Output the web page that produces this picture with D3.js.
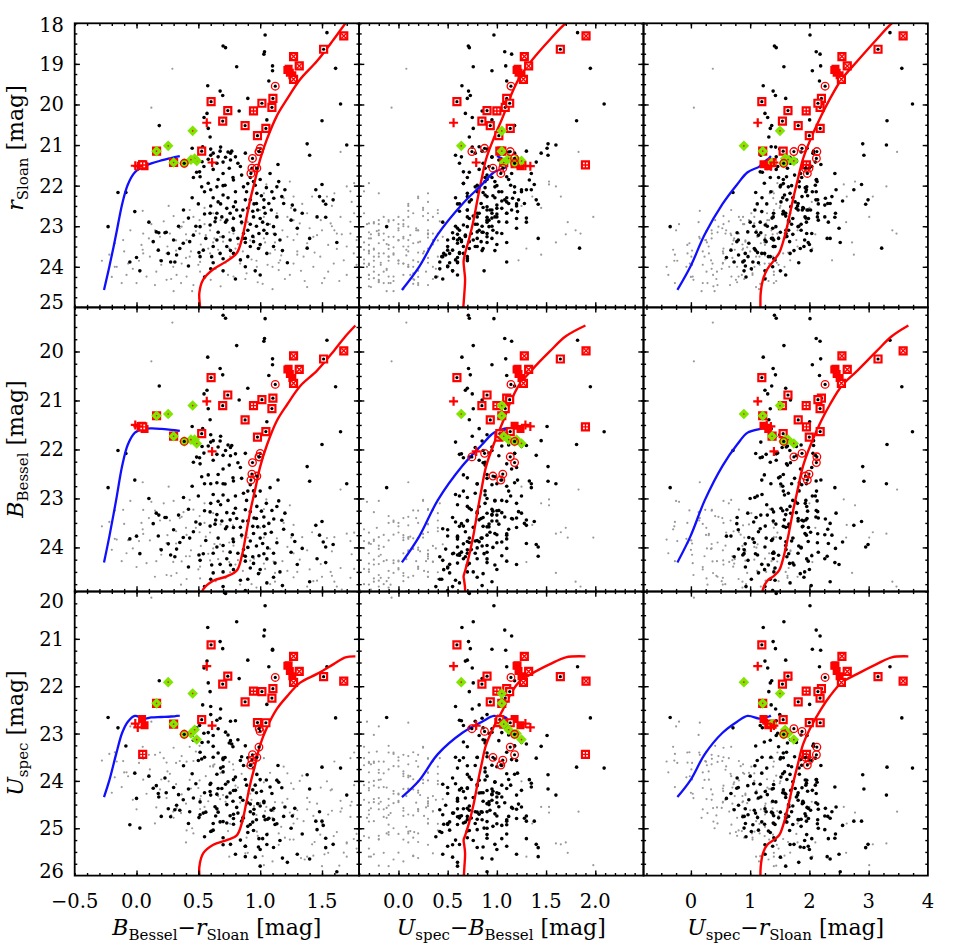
<!DOCTYPE html>
<html>
<head>
<meta charset="utf-8">
<script src="https://cdn.jsdelivr.net/npm/d3@7.9.0/dist/d3.min.js"></script>
<style>
  body { margin: 0; background: #fff; }
  text { font-family: "DejaVu Serif", serif; fill: #000; }
</style>
</head>
<body>
<svg id="chart" width="957" height="946"></svg>
<script>
// every star is [B-r, U-B, r]; the nine panels are built from these three numbers

// axis ranges, columns: B-r, U-B, U-r ; rows: r, B, U
const colDomains = [[-0.5, 1.8], [-0.4, 2.49], [-0.8, 4.0]];
const rowDomains = [[18, 25], [19.1, 24.9], [20, 26]];

const xTickValues = [[-0.5, 0, 0.5, 1, 1.5], [0, 0.5, 1, 1.5, 2], [0, 1, 2, 3, 4]];
const xTickLabels = [["−0.5", "0.0", "0.5", "1.0", "1.5"], ["0.0", "0.5", "1.0", "1.5", "2.0"], ["0", "1", "2", "3", "4"]];
const xMinorStep = [0.1, 0.1, 0.25];
const yTickValues = [[18, 19, 20, 21, 22, 23, 24, 25], [20, 21, 22, 23, 24], [20, 21, 22, 23, 24, 25, 26]];
const yMinorStep = 0.25;

// faint field sources (grey)
const greyStars = [
  [1.76,-0.3,21.94],[1.70,1.6,22.02],[1.6,-0.2,22.19],[1.54,0.2,22.27],[1.73,-0.35,22.14],[1.42,1.65,22.27],
  [1.27,1.36,22.27],[1.19,0.2,22.31],[1.05,1.53,21.97],[1.03,0.3,22.19],[0.05,0.1,22.62],
  [0.43,0.25,22.6],[0.46,0.35,22.77],[0.51,-0.1,22.85],[0.62,0.4,22.68],[0.78,0.1,22.77],[0.89,-0.05,22.85],
  [1.03,1.98,22.77],[1.135,0.15,22.68],[1.22,-0.15,22.77],[1.27,0.05,22.85],[1.32,-0.25,22.93],[1.38,0.3,22.68],
  [1.49,-0.2,22.85],[1.57,-0.3,22.93],[1.65,0.0,22.77],[1.73,-0.1,22.89],[1.76,-0.35,22.68],[1.6,1.8,23.1],
  [-0.05,-0.2,23.1],[0.054,0.3,23.18],
  [0.15,0.2,23.1],[0.19,-0.05,23.26],[0.27,0.4,23.18],[0.365,0.1,23.01],[0.405,-0.15,23.34],[0.51,0.3,23.18],
  [0.595,0.0,23.1],[0.676,0.45,23.26],[0.784,-0.2,23.18],[0.906,0.2,23.1],[1.03,-0.3,23.3],[1.108,0.35,23.18],
  [1.22,-0.1,23.26],[1.27,0.1,23.34],[1.38,-0.2,23.42],[1.43,0.05,23.26],[1.55,-0.3,23.46],[1.62,1.85,23.18],
  [1.73,-0.15,23.18],[1.78,0.0,23.34],[-0.175,0.15,23.42],[-0.108,0.35,23.34],[0.04,-0.1,23.46],
  [-0.16,-0.25,24.0],[-0.068,0.05,23.92],[0.054,0.25,23.67],[0.108,-0.1,23.75],[0.19,0.15,23.84],[0.243,-0.3,23.67],
  [0.297,0.35,24.0],[0.365,0.0,23.92],[0.43,-0.2,23.75],[0.514,0.2,23.88],[0.595,-0.05,23.67],[0.757,0.4,23.75],
  [0.838,-0.3,23.92],[0.973,0.1,24.0],[1.081,-0.15,23.67],[1.162,1.22,23.84],[1.27,0.05,23.92],[1.351,-0.25,23.75],
  [1.43,0.15,24.0],[1.486,-0.1,23.75],[1.595,-0.35,23.92],[1.676,0.0,23.84],[1.757,-0.2,23.67],
  [-0.176,0.1,24.0],[-0.081,-0.3,24.2],[0.0,0.2,24.4],[0.081,-0.05,24.24],[0.149,0.3,24.45],[0.243,-0.2,24.32],
  [0.324,0.05,24.2],[0.405,0.4,24.24],[0.514,-0.25,24.12],[0.784,-0.1,24.24],[0.89,0.15,24.16],[1.2,-0.3,24.3],
  [1.5,-0.1,24.4],[1.7,-0.3,24.2],
  [0.29,0.08,19.12],[0.12,-0.07,20.08],[1.65,1.83,21.17],[1.24,1.53,21.9],
  [0.35,0.18,23.05],[0.48,-0.22,23.12],[0.56,0.12,23.22],[0.63,-0.28,23.3],[0.7,0.22,23.38],[0.82,-0.12,23.44],
  [0.95,0.3,23.28],[1.0,-0.05,23.52],[1.12,-0.25,23.58],[1.18,0.18,23.1],[1.3,-0.3,23.62],[1.4,0.0,23.05],
  [1.46,-0.2,23.22],[1.62,-0.1,23.56],[0.25,0.05,23.5],[0.32,-0.3,23.6],[0.4,0.3,23.78],[0.66,0.08,23.58],
  [0.72,-0.18,23.9],[0.86,0.26,23.62],[0.93,-0.35,23.82],[1.06,0.1,23.95],[1.15,-0.12,24.08],[1.33,0.2,24.1],
  [1.55,-0.15,24.12],[0.6,0.16,24.32],[0.68,-0.3,24.48],[0.98,-0.2,24.38],[1.1,0.05,24.55],[1.38,-0.28,24.5],
  [0.45,-0.05,24.6],[0.22,0.42,22.88],[0.12,-0.32,22.95],[-0.1,0.3,23.62],[-0.22,-0.05,23.7],[0.02,-0.25,23.85],
  [0.3,0.25,22.75],[0.55,1.45,22.55],[0.9,1.72,22.9],[0.75,1.3,23.55],[1.12,1.6,23.4],[0.52,0.35,23.45],
  [0.85,0.05,22.95],[1.25,0.25,22.55],[1.58,0.1,22.5],
  [0.1,0.05,23.3],[0.2,-0.18,23.95],[0.28,0.15,24.3],[0.36,-0.08,24.4],[0.44,0.1,23.62],[0.5,-0.3,23.95],
  [0.58,0.3,23.55],[0.64,-0.12,24.05],[0.74,0.12,24.2],[0.8,-0.25,23.55],[0.88,0.35,24.3],[0.97,-0.1,23.85],
  [1.04,0.2,23.4],[1.1,-0.32,24.0],[1.17,0.08,23.72],[1.24,-0.2,24.2],[1.3,0.3,23.2],[1.36,-0.05,24.35],
  [1.44,0.2,23.65],[1.52,-0.25,24.28],[1.58,0.05,23.0],[1.64,-0.2,24.35],[1.7,0.1,23.5],[1.78,-0.3,23.95],
  [-0.28,0.0,23.85],[-0.2,0.2,24.25],[-0.12,-0.15,24.4],[-0.03,0.38,24.05],[0.05,-0.35,23.58],[0.16,0.28,24.12],
  [0.32,0.4,23.35],[0.38,-0.25,22.9],[0.55,0.0,22.95],[0.68,0.3,22.85],[0.75,-0.3,23.15],[0.92,0.0,23.35],
  [1.0,0.4,22.6],[1.08,-0.2,22.95],[1.15,0.3,23.9],[1.34,0.1,22.45],[1.5,0.3,23.1],[1.66,-0.28,23.2],
  [1.74,0.3,22.4],[0.26,1.25,22.5],[0.4,1.7,23.2],[1.3,1.45,23.7],[0.62,-0.35,23.4],[0.46,0.2,24.45],
  [1.02,0.15,24.42],[0.3,-0.12,24.6]
];

// cluster candidates (black)
const blackStars = [
  [0.70,0.71,18.56],[0.72,0.72,18.60],[1.04,0.97,18.29],[1.035,1.08,18.70],[1.03,1.15,18.76],[0.81,0.76,19.07],
  [1.10,1.09,19.05],[1.10,0.95,19.17],[1.54,1.82,18.23],[1.61,1.95,19.11],[1.65,2.09,19.99],[1.50,1.81,20.40],
  [1.07,1.10,19.42],[0.576,0.645,19.54],[0.676,0.712,19.67],[0.697,0.73,19.78],[0.90,0.70,19.85],[0.546,0.75,20.32],
  [0.184,1.18,20.52],[1.054,0.95,20.38],[0.83,0.85,20.16],[0.58,0.76,20.59],[0.595,0.72,20.8],[0.57,0.68,20.22],
  [0.535,0.82,21.04],[0.51,0.66,21.66],[1.38,1.52,20.97],[1.40,1.52,21.25],[1.144,1.05,21.48],[1.50,1.38,21.97],
  [1.51,1.05,22.38],[1.53,1.42,22.46],[1.48,0.9,22.27],
  [0.676,0.85,21.15],[0.74,1.12,21.17],[0.76,0.78,21.2],[0.77,1.3,21.15],[0.66,0.95,21.29],[0.65,0.62,21.45],
  [0.76,1.02,21.37],[0.75,0.88,21.57],[0.53,1.25,21.41],[0.545,0.92,21.53],[0.486,0.72,21.67],[0.514,1.1,21.78],
  [0.58,0.66,21.94],[0.527,0.98,22.03],[0.65,1.18,22.03],[0.716,0.8,21.99],[0.784,1.33,21.86],[0.85,0.9,21.74],
  [0.84,1.2,21.53],[0.80,0.64,21.29],[0.865,0.78,22.03],[0.89,1.05,22.15],[0.946,0.88,21.9],[0.96,1.14,21.99],
  [0.973,0.7,22.19],[1.01,0.96,22.25],[0.92,1.22,22.35],[0.97,0.84,22.44],[1.03,1.08,22.35],[0.88,0.74,22.35],
  [0.90,1.0,22.56],[0.94,0.62,22.63],[0.784,0.9,22.52],[0.81,1.15,22.6],[0.757,0.82,22.68],[0.73,1.05,22.56],
  [0.69,0.7,22.77],[0.65,0.95,22.68],[0.62,0.58,22.3],[0.66,1.1,22.4],[0.70,0.88,22.23],[0.595,0.8,22.68],
  [0.635,1.02,22.89],[0.595,0.66,22.97],[0.73,0.92,22.85],[0.784,1.2,22.81],[0.84,0.76,22.75],[0.946,0.98,22.77],
  [1.0,0.72,22.81],[1.04,1.1,22.68],[1.03,0.86,22.54],[1.07,1.28,22.44],[1.09,0.93,22.6],[1.11,1.16,22.31],
  [1.135,0.82,22.03],[1.095,1.02,22.15],[1.175,0.7,22.27],[1.19,1.12,22.44],[0.97,0.85,23.0],[1.03,0.62,23.1],
  [0.99,1.05,23.18],[0.865,0.74,23.18],[0.9,0.96,23.1],[0.82,0.56,23.3],[0.784,0.82,23.1],[0.757,0.64,23.34],
  [0.70,0.9,23.26],[0.946,0.72,23.38],[0.92,0.5,23.5],[0.986,0.86,23.55],[0.65,0.6,23.34],[0.62,0.78,23.5],
  [0.54,0.55,23.59],[0.514,0.92,23.01],[0.46,0.68,23.22],[0.43,0.84,23.38],[0.378,0.6,23.42],[0.35,0.72,23.55],
  [0.3,0.5,23.34],[0.24,0.86,23.15],[0.23,0.55,23.16],[0.135,0.64,23.38],[0.176,0.5,23.59],[0.257,0.66,23.67],
  [0.324,0.48,23.71],[0.276,0.6,23.88],[0.31,0.42,23.88],[0.505,0.62,23.65],[0.514,0.45,23.75],[0.608,0.7,23.75],
  [0.676,0.52,23.67],[0.73,0.66,23.5],[0.784,0.46,23.67],[0.84,0.58,23.83],[0.9,0.44,23.75],[1.054,0.62,23.67],
  [1.108,0.8,23.5],[1.054,0.9,23.18],[1.108,0.7,23.01],[1.135,1.0,22.77],[1.16,0.76,23.34],[1.26,1.0,22.48],
  [1.28,0.7,22.6],[1.34,1.1,22.68],[1.38,1.84,23.54],[1.46,0.8,22.77],[1.59,1.4,22.35],[1.53,0.9,22.78],
  [-0.15,0.86,22.17],[-0.086,1.18,22.17],[-0.014,1.21,22.64],[-0.23,-0.12,23.01],[0.0,0.6,23.77],[-0.054,1.1,23.88],
  [0.027,0.87,24.1],[0.16,0.8,23.14],[0.18,1.0,23.16],[0.42,0.5,23.98],[0.6,0.42,24.05],[0.7,0.55,24.1],
  [0.88,0.5,24.0],[1.0,0.6,24.2],[0.55,0.38,24.25],[0.8,0.45,24.3],[0.62,1.45,21.2],[0.7,1.4,21.42],
  [0.45,1.51,21.08],[0.88,1.42,23.3],[0.6,1.35,22.1],
  [0.6,0.9,21.1],[0.68,0.75,21.05],[0.72,0.95,21.3],[0.58,1.05,21.35],[0.62,0.82,21.6],[0.7,1.15,21.7],
  [0.78,0.7,21.8],[0.66,0.9,21.85],[0.55,0.8,22.15],[0.6,1.2,22.5],[0.68,0.6,22.45],[0.74,0.98,22.3],
  [0.8,0.72,22.4],[0.85,1.1,22.9],[0.92,0.78,22.95],[0.95,1.2,22.45],[0.98,0.9,22.6],[1.02,1.3,22.9],
  [1.06,0.8,22.95],[1.12,0.6,23.2],[0.88,1.1,23.4],[0.76,0.98,23.6],[0.7,0.7,23.8],[0.62,0.52,23.9],
  [0.56,0.8,23.3],[0.48,0.58,23.0],[0.42,0.95,22.8],[0.38,0.7,22.6],[0.45,1.1,22.3],[0.5,0.62,22.45],
  [0.9,0.66,21.95],[0.92,0.95,21.8],[1.0,1.12,21.85],[1.05,0.88,22.05],[1.08,1.35,21.7],[1.15,0.98,21.9],
  [1.2,1.25,22.1],[1.25,0.9,22.85],[1.3,1.2,23.05],[1.18,0.85,23.6],[1.4,0.95,23.3],[1.22,0.6,23.9],
  [0.96,0.55,24.1],[0.86,0.62,23.3],[0.72,0.45,22.9],[0.8,1.25,22.15],[0.86,0.95,22.6],[0.64,1.3,22.8],
  [0.55,1.0,22.7],[0.7,1.0,22.0],[0.82,0.86,21.45],[0.88,1.18,21.2],[0.6,0.58,21.25],[0.46,0.88,21.8],
  [0.94,0.68,23.25],[1.0,1.0,23.45],[0.78,0.6,23.05],[0.66,0.85,23.15],[0.34,0.95,23.0],[0.2,0.7,23.85],
  [0.1,0.9,22.9],[1.7,1.6,21.0],[1.62,0.9,23.4],[1.45,1.3,22.1]
];

// spectroscopic members, by symbol
const openSquares = [
  [1.513,1.645,18.64],[1.103,1.10,19.85],[1.095,1.085,20.07],[1.014,1.13,19.97],[0.738,0.90,20.15],[0.603,0.594,19.93],
  [0.697,0.848,20.41],[0.878,0.933,20.52],[1.046,1.136,20.59],[0.978,1.02,20.77],[0.527,1.03,21.15]
];
const crossSquares = [
  [1.676,1.906,18.31],[1.27,1.279,18.82],[1.316,1.323,19.05],[1.27,1.27,19.38],[0.162,1.05,21.15],[0.30,1.07,21.43]
];
const gridSquares = [[0.946,1.0,20.16],[0.05,1.9,21.49]];
const filledSquares = [
  [1.22,1.20,19.15],[1.24,1.22,19.22],[1.26,1.25,19.28],[1.23,1.21,19.12],[0.045,1.18,21.47],[0.065,1.24,21.52]
];
const greenDiamonds = [
  [0.162,1.05,21.15],[0.256,0.638,21.02],[0.454,1.05,20.65],[0.30,1.07,21.43],[0.487,1.25,21.39],[0.47,1.12,21.33],
  [0.386,1.18,21.45],[0.44,1.2,21.36]
];
const openCircles = [
  [1.122,1.143,19.55],[1.0,0.875,21.08],[0.992,0.746,21.16],[0.99,1.136,21.16],[0.938,1.18,21.33],[0.933,1.06,21.57],
  [0.973,0.96,21.57],[0.925,1.04,21.70],[0.386,1.18,21.45]
];
const plusMarks = [[-0.01,1.29,21.51],[0.01,1.34,21.52],[0.568,0.56,20.45],[0.611,0.79,21.43]];

// model tracks
const blueTrack = [
  [-0.263,0.035,24.57],[-0.22,0.21,24.0],[-0.165,0.40,23.2],[-0.116,0.65,22.45],[-0.07,0.85,21.97],[-0.013,0.97,21.67],
  [0.054,1.10,21.53],[0.12,1.09,21.45],[0.20,1.07,21.38],[0.28,1.04,21.32],[0.35,1.0,21.27]
];
const redTrack = [
  [1.77,1.90,17.7],[1.69,1.70,18.0],[1.594,1.54,18.4],[1.46,1.35,18.93],[1.324,1.22,19.38],[1.217,1.127,19.87],
  [1.135,1.065,20.28],[1.054,0.964,20.86],[1.0,0.89,21.35],[0.96,0.844,21.85],[0.92,0.803,22.34],[0.886,0.764,22.84],
  [0.851,0.716,23.33],[0.811,0.678,23.66],[0.73,0.662,23.86],[0.621,0.668,24.06],[0.54,0.677,24.31],[0.508,0.67,24.64],
  [0.513,0.66,24.97],[0.52,0.65,25.4]
];

const toStar = ([br, ub, r]) => ({ br, ub, r });

// colour index per column, magnitude per row
function colourOf(ci, d) { return [d.br, d.ub, d.br + d.ub][ci]; }
function magOf(ri, d) { return [d.r, d.r + d.br, d.r + d.br + d.ub][ri]; }

const svg = d3.select("#chart");
const left0 = 74.7, top0 = 23.3, panelW = 284.4, panelH = 284.1;
const red = "#ff0000", green = "#7ee600";

const defs = svg.append("defs");

for (let ri = 0; ri < 3; ri++) {
  for (let ci = 0; ci < 3; ci++) {
    const x0 = left0 + ci * panelW, y0 = top0 + ri * panelH;
    const x = d3.scaleLinear().domain(colDomains[ci]).range([x0, x0 + panelW]);
    const y = d3.scaleLinear().domain(rowDomains[ri]).range([y0, y0 + panelH]);
    const px = d => x(colourOf(ci, d));
    const py = d => y(magOf(ri, d));
    const at = d => `translate(${px(d)},${py(d)})`;

    const clipId = `clip-${ri}-${ci}`;
    defs.append("clipPath").attr("id", clipId)
      .append("rect").attr("x", x0).attr("y", y0).attr("width", panelW).attr("height", panelH);

    const g = svg.append("g").attr("clip-path", `url(#${clipId})`);

    g.selectAll(".grey").data(greyStars.map(toStar)).join("circle")
      .attr("cx", px).attr("cy", py).attr("r", 1.1).attr("fill", "#999");

    g.selectAll(".black").data(blackStars.map(toStar)).join("circle")
      .attr("cx", px).attr("cy", py).attr("r", 1.8).attr("fill", "#000");

    const line = d3.line().x(px).y(py).curve(d3.curveCatmullRom.alpha(0.5));
    g.append("path").attr("d", line(redTrack.map(toStar)))
      .attr("fill", "none").attr("stroke", red).attr("stroke-width", 2.4);
    g.append("path").attr("d", line(blueTrack.map(toStar)))
      .attr("fill", "none").attr("stroke", "#1010ff").attr("stroke-width", 2.3);

    // squares
    const sq = d3.symbol(d3.symbolSquare, 49);
    const bigSq = d3.symbol(d3.symbolSquare, 64);

    g.selectAll(".sqf").data(filledSquares.map(toStar)).join("path")
      .attr("d", bigSq).attr("transform", at).attr("fill", red);

    [[openSquares, null], [crossSquares, "M-2.5,-2.5L2.5,2.5M-2.5,2.5L2.5,-2.5"], [gridSquares, "M-3,0H3M0,-3V3"]]
      .forEach(([list, inner]) => {
        const s = g.selectAll(null).data(list.map(toStar)).join("g").attr("transform", at);
        s.append("path").attr("d", sq).attr("fill", "#fff").attr("stroke", red).attr("stroke-width", 2.2);
        if (inner) {
          s.append("path").attr("d", inner).attr("stroke", red).attr("stroke-width", 1.4);
        } else {
          s.append("circle").attr("r", 1.6).attr("fill", "#000");
        }
      });

    const dia = g.selectAll(".dia").data(greenDiamonds.map(toStar)).join("g")
      .attr("transform", d => `${at(d)} rotate(45)`);
    dia.append("path").attr("d", d3.symbol(d3.symbolSquare, 56)).attr("fill", green);
    dia.append("circle").attr("r", 0.8).attr("fill", red);

    const circ = g.selectAll(".circ").data(openCircles.map(toStar)).join("g").attr("transform", at);
    circ.append("circle").attr("r", 3.8).attr("fill", "none").attr("stroke", red).attr("stroke-width", 1.3);
    circ.append("circle").attr("r", 1.6).attr("fill", "#000");

    g.selectAll(".plus").data(plusMarks.map(toStar)).join("path")
      .attr("transform", at).attr("d", "M-4.5,0H4.5M0,-4.5V4.5")
      .attr("stroke", red).attr("stroke-width", 2.2);

    // IDL-style frame with inward ticks on all four sides
    const xd = colDomains[ci], yd = rowDomains[ri];
    const xMajor = xTickValues[ci].filter(v => v > xd[0] && v < xd[1]);
    const xMinor = d3.range(Math.ceil(xd[0] / xMinorStep[ci] - 1e-6) * xMinorStep[ci], xd[1], xMinorStep[ci]);
    const yMajor = d3.range(Math.ceil(yd[0]), yd[1] + 1e-6, 1).filter(v => v > yd[0] && v < yd[1]);
    const yMinor = d3.range(Math.ceil(yd[0] / yMinorStep - 1e-6) * yMinorStep, yd[1], yMinorStep);

    const ax = svg.append("g").attr("class", "axes");
    const sides = [
      [d3.axisBottom, x, `translate(0,${y0 + panelH})`],
      [d3.axisTop, x, `translate(0,${y0})`],
      [d3.axisLeft, y, `translate(${x0},0)`],
      [d3.axisRight, y, `translate(${x0 + panelW},0)`]
    ];
    sides.forEach(([axisFn, scale, tr], k) => {
      const major = k < 2 ? xMajor : yMajor;
      const minor = k < 2 ? xMinor : yMinor;
      [[minor, 2.6], [major, 5.2]].forEach(([vals, len]) => {
        ax.append("g").attr("transform", tr)
          .call(axisFn(scale).tickValues(vals).tickSize(-len).tickSizeOuter(0).tickFormat(""))
          .call(a => a.select(".domain").remove())
          .call(a => a.selectAll("line").attr("stroke", "#000").attr("stroke-width", 1.4));
      });
    });
    ax.append("rect").attr("x", x0).attr("y", y0).attr("width", panelW).attr("height", panelH)
      .attr("fill", "none").attr("stroke", "#000").attr("stroke-width", 1.8);

    // tick labels on the outer panels only
    if (ri === 2) {
      ax.selectAll(".xl").data(xTickValues[ci]).join("text")
        .attr("x", d => x(d)).attr("y", 908).attr("text-anchor", "middle")
        .attr("font-size", 19.5).text((d, i) => xTickLabels[ci][i]);
    }
    if (ci === 0) {
      ax.selectAll(".yl").data(yTickValues[ri]).join("text")
        .attr("x", 64).attr("text-anchor", "end").attr("font-size", 19.5)
        .attr("y", d => {
          const lo = ri === 0 ? y0 + 2 : y0 + 9;
          return Math.min(Math.max(y(d), lo), y0 + panelH - 5) + 7;
        })
        .text(d => d);
    }
  }
}

// axis titles
const xTitles = [["B", "Bessel", "r", "Sloan"], ["U", "spec", "B", "Bessel"], ["U", "spec", "r", "Sloan"]];
xTitles.forEach((t, ci) => {
  const cx = left0 + (ci + 0.5) * panelW;
  const txt = svg.append("text").attr("x", cx).attr("y", 935).attr("text-anchor", "middle").attr("font-size", 22);
  txt.append("tspan").attr("font-style", "italic").text(t[0]);
  txt.append("tspan").attr("font-size", 15).attr("dy", 5).text(t[1]);
  txt.append("tspan").attr("dy", -5).text("−");
  txt.append("tspan").attr("font-style", "italic").text(t[2]);
  txt.append("tspan").attr("font-size", 15).attr("dy", 5).text(t[3]);
  txt.append("tspan").attr("dy", -5).text(" [mag]");
});

const yTitles = [["r", "Sloan", 148], ["B", "Bessel", 449], ["U", "spec", 733]];
yTitles.forEach(([main, sub, cy]) => {
  const txt = svg.append("text").attr("transform", `translate(23,${cy}) rotate(-90)`)
    .attr("text-anchor", "middle").attr("font-size", 22);
  txt.append("tspan").attr("font-style", "italic").text(main);
  txt.append("tspan").attr("font-size", 15).attr("dy", 5).text(sub);
  txt.append("tspan").attr("dy", -5).text(" [mag]");
});
</script>
</body>
</html>
